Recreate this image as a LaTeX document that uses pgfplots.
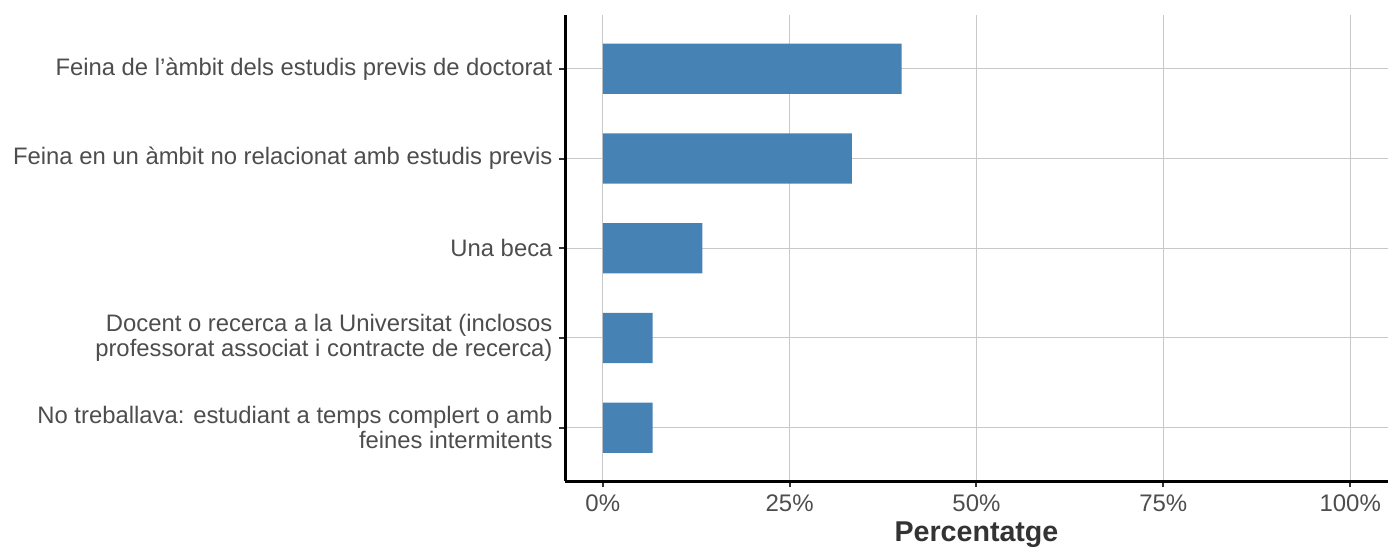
\documentclass[border=0pt]{standalone}
\usepackage{pgfplots}
\pgfplotsset{compat=1.18}
\usepackage{fontspec}
\setmainfont{Liberation Sans}
\definecolor{barblue}{HTML}{4682B4}
\definecolor{labgrey}{HTML}{4D4D4D}
\definecolor{gridgrey}{HTML}{C8C8C8}
\begin{document}
\begin{tikzpicture}[x=0.75pt,y=0.75pt]
\begin{axis}[
  name=ax,
  scale only axis,
  width=617.25pt, height=350.25pt,
  xbar, bar width=0.56,
  xmin=-5, xmax=105,
  ymin=0.4, ymax=5.6,
  y dir=reverse,
  axis x line*=bottom, axis y line*=left,
  axis line style={line width=2.2pt, black, -},
  xtick={0,25,50,75,100},
  xticklabels={0\%,25\%,50\%,75\%,100\%},
  ytick={1,2,3,4,5},
  yticklabels={
    {Feina de l’àmbit dels estudis previs de doctorat},
    {Feina en un àmbit no relacionat amb estudis previs},
    {Una beca},
    {Docent o recerca a la Universitat (inclosos\\professorat associat i contracte de recerca)},
    {No treballava: estudiant a temps complert o amb\\feines intermitents}},
  yticklabel style={align=right, font=\fontsize{17.9}{19}\selectfont, text=labgrey, inner sep=0pt, xshift=-5pt},
  xticklabel style={font=\fontsize{18}{19}\selectfont, text=labgrey, inner sep=0pt, yshift=-5pt},
  tick align=outside, tickwidth=4.5pt,
  major tick style={line width=1.5pt, color=black!80},
  grid=major,
  major grid style={line width=0.8pt, color=gridgrey},
  xlabel={\textbf{Percentatge}},
  xlabel style={font=\fontsize{21.5}{22}\selectfont, text=black!80, inner sep=0pt, yshift=-7.5pt},
]
\addplot[fill=barblue, draw=none] coordinates {
  (40.0,1) (33.33,2) (13.33,3) (6.67,4) (6.67,5)
};
\end{axis}
\path (ax.north east) ++(0,15) (ax.south west) ++(-566,-66);
\end{tikzpicture}
\end{document}
